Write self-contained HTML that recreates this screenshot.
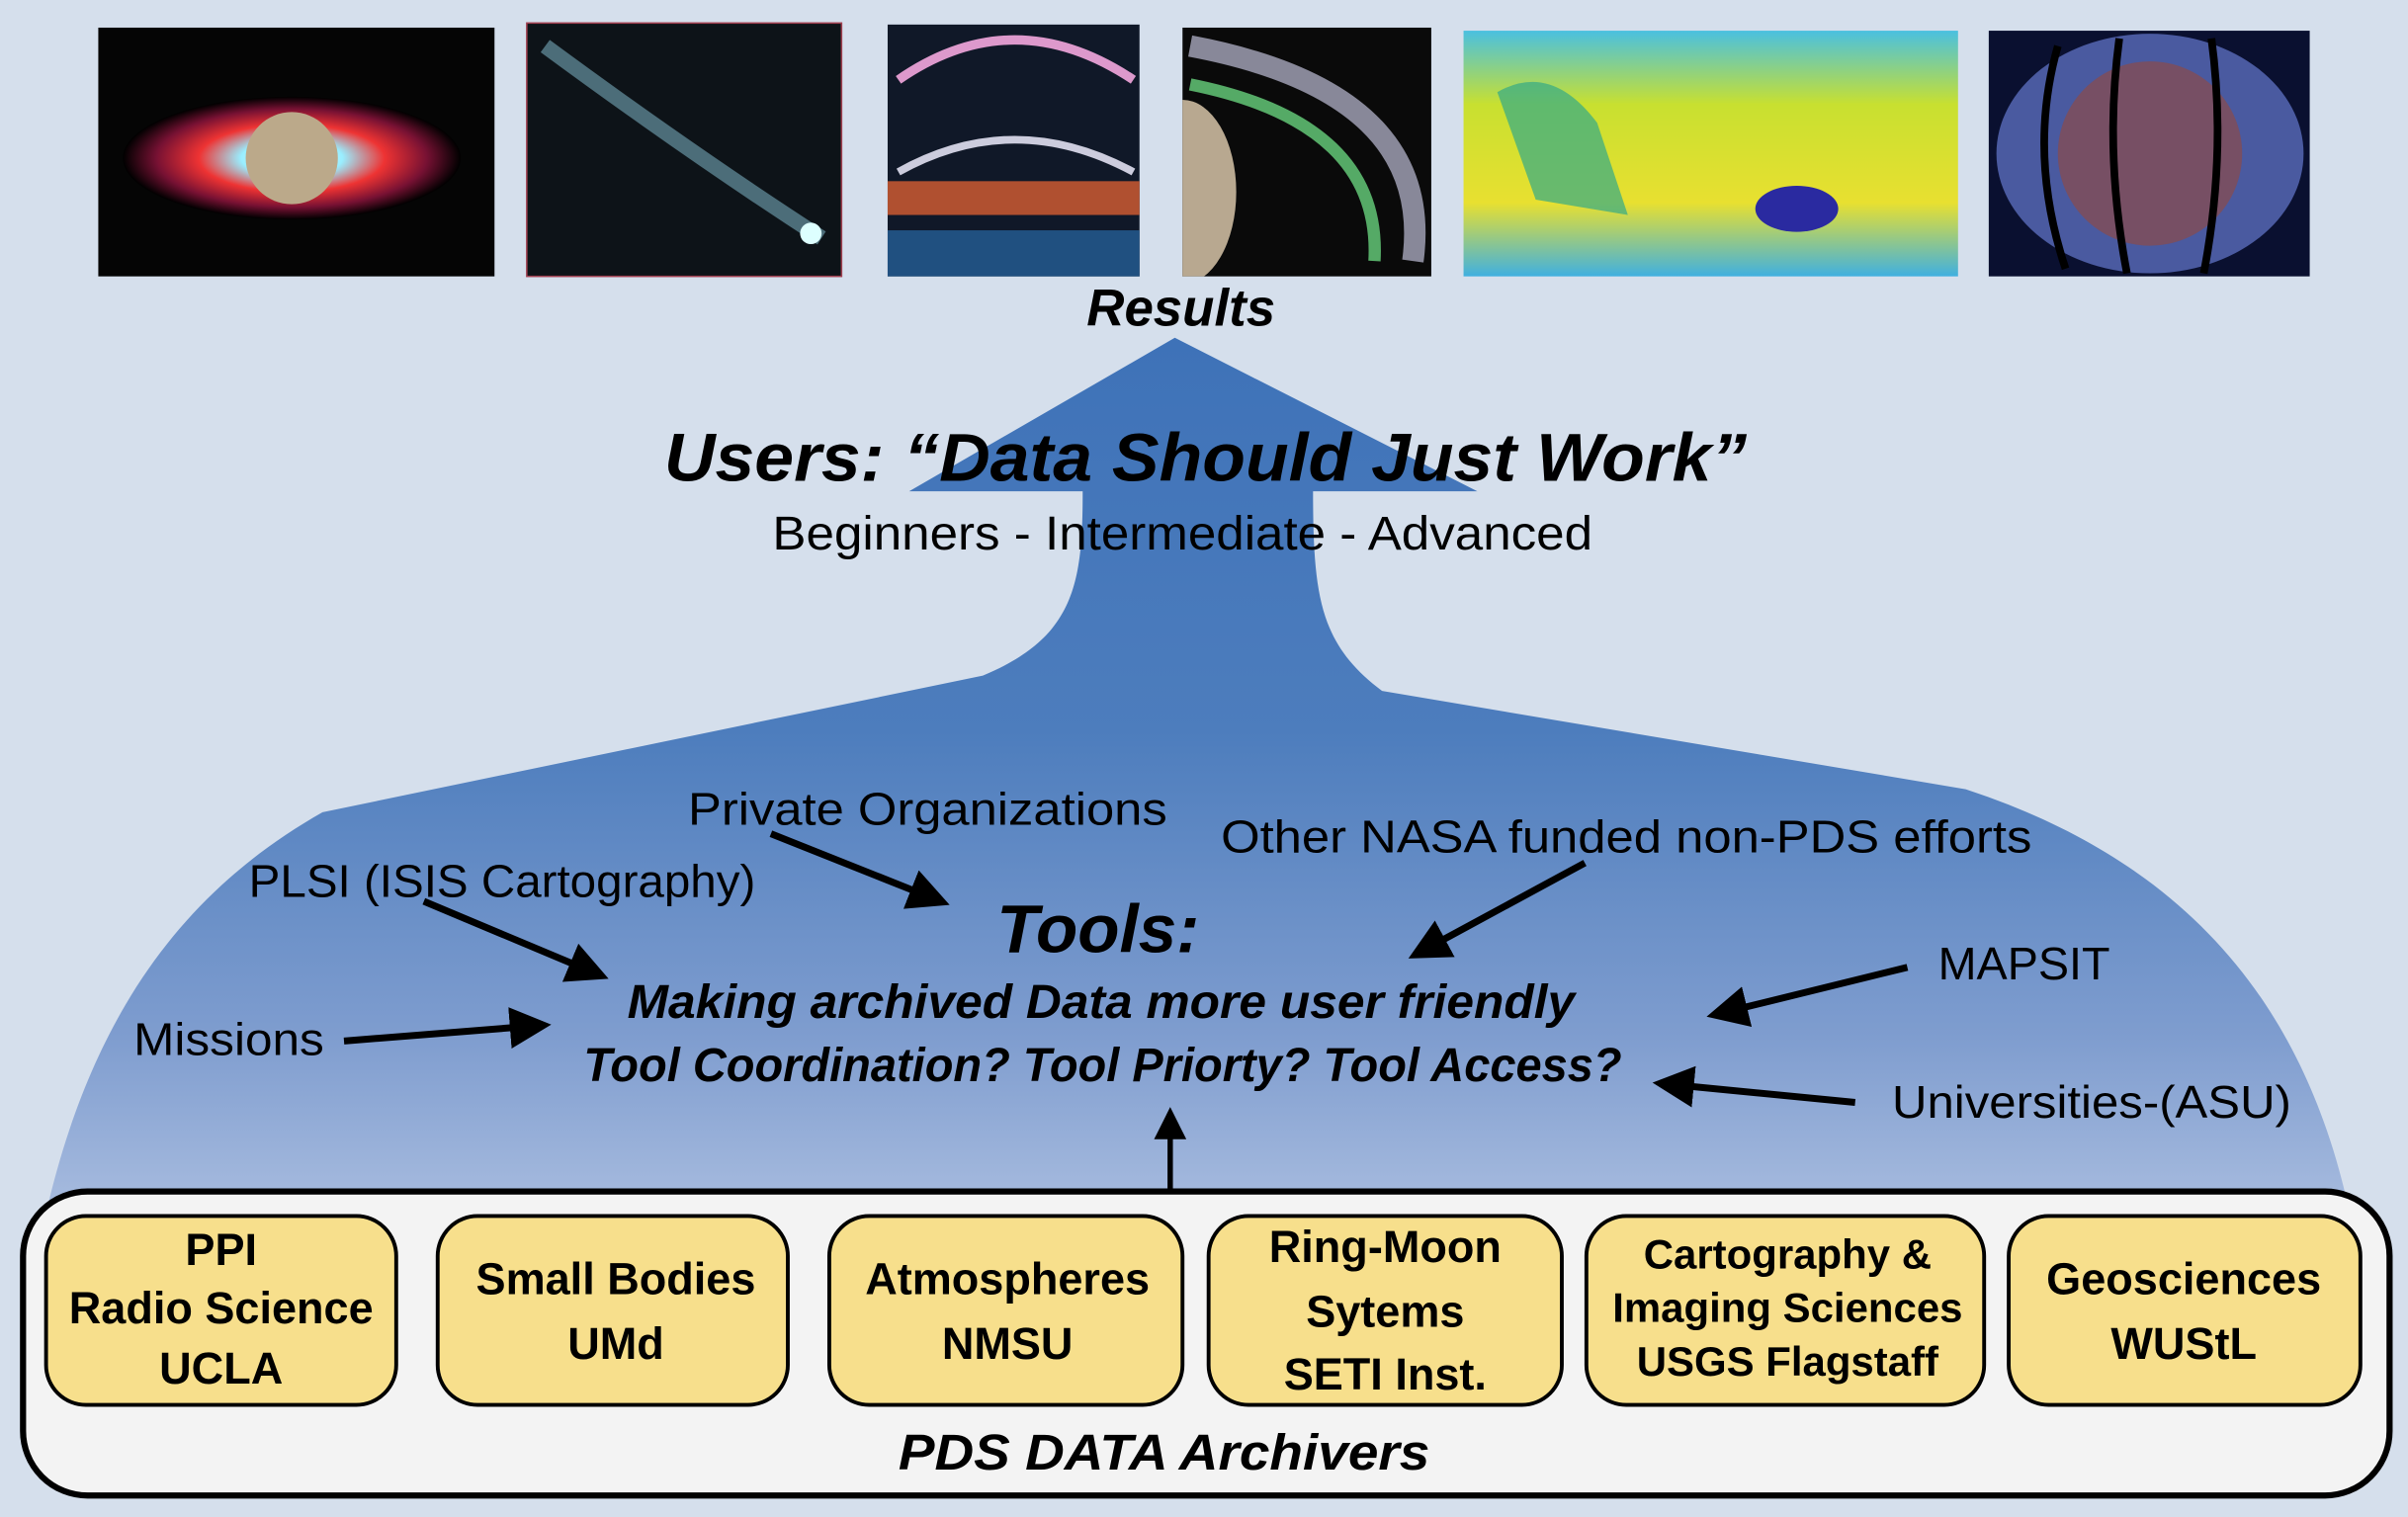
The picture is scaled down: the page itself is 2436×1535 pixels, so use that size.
<!DOCTYPE html>
<html><head><meta charset="utf-8"><style>html,body{margin:0;padding:0;background:#d5dfec;}svg{display:block}</style></head>
<body>
<svg width="2436" height="1535" viewBox="0 0 1568 988" preserveAspectRatio="none" xmlns="http://www.w3.org/2000/svg" font-family="'Liberation Sans', sans-serif">
<defs>
<linearGradient id="bl" x1="0" y1="220" x2="0" y2="790" gradientUnits="userSpaceOnUse">
<stop offset="0" stop-color="#3e72b8"/><stop offset="0.45" stop-color="#4d7dbd"/><stop offset="0.8" stop-color="#7f9dcf"/><stop offset="1" stop-color="#a8bcdf"/></linearGradient>
<radialGradient id="jup" cx="0.5" cy="0.5" r="0.5"><stop offset="0" stop-color="#fff"/><stop offset="0.3" stop-color="#9ef"/><stop offset="0.55" stop-color="#e33"/><stop offset="0.8" stop-color="#713"/><stop offset="1" stop-color="#000"/></radialGradient>
<linearGradient id="mars" x1="0" y1="0" x2="0" y2="1"><stop offset="0" stop-color="#4ac0e0"/><stop offset="0.3" stop-color="#c8e030"/><stop offset="0.7" stop-color="#e8e030"/><stop offset="1" stop-color="#40b0e0"/></linearGradient>
<clipPath id="sat"><rect x="770" y="18" width="162" height="162"/></clipPath>
<marker id="ah" markerWidth="6" markerHeight="6" refX="4" refY="3" orient="auto" markerUnits="strokeWidth"><path d="M0 0 L6 3 L0 6 Z" fill="#000"/></marker>
</defs>
<rect width="1568" height="988" fill="#d5dfec"/>
<rect x="64" y="18" width="258" height="162" fill="#050505"/>
<ellipse cx="190" cy="103" rx="110" ry="40" fill="url(#jup)"/>
<circle cx="190" cy="103" r="30" fill="#bba98a"/>
<rect x="343" y="15" width="205" height="165" fill="#0d1318" stroke="#a04050"/>
<path d="M355 30 Q450 100 535 155" stroke="#7ab" stroke-width="10" opacity="0.6" fill="none"/>
<circle cx="528" cy="152" r="7" fill="#dff"/>
<rect x="578" y="16" width="164" height="164" fill="#101828"/>
<path d="M585 52 Q660 0 738 52" stroke="#d9c" stroke-width="6" fill="none"/>
<path d="M585 112 Q660 70 738 112" stroke="#ccd" stroke-width="5" fill="none"/>
<rect x="578" y="118" width="164" height="22" fill="#b05030"/>
<rect x="578" y="150" width="164" height="30" fill="#205080"/>
<rect x="770" y="18" width="162" height="162" fill="#0a0a0a"/>
<g clip-path="url(#sat)">
<path d="M775 30 Q935 60 920 170" stroke="#889" stroke-width="14" fill="none"/>
<path d="M775 55 Q900 80 895 170" stroke="#5a6" stroke-width="8" fill="none"/>
<ellipse cx="770" cy="125" rx="35" ry="60" fill="#b8a890"/>
</g>
<rect x="953" y="20" width="322" height="160" fill="url(#mars)"/>
<path d="M975 60 Q1010 40 1040 80 L1060 140 L1000 130 Z" fill="#3a8" opacity="0.7"/>
<ellipse cx="1170" cy="136" rx="27" ry="15" fill="#2a2aa0"/>
<rect x="1295" y="20" width="209" height="160" fill="#0a1030"/>
<ellipse cx="1400" cy="100" rx="100" ry="78" fill="#4a5aa0"/>
<ellipse cx="1400" cy="100" rx="60" ry="60" fill="#8a4a4a" opacity="0.7"/>
<g stroke="#000" stroke-width="5" fill="none"><path d="M1340 30 Q1320 100 1345 175"/><path d="M1380 25 Q1370 100 1385 178"/><path d="M1440 25 Q1450 100 1435 178"/></g>
<text x="769" y="212" text-anchor="middle" font-size="34" font-weight="bold" font-style="italic">Results</text>
<path d="M765 220 L962 320 L855 320 C855 390 860 420 900 450 L1280 514 C1420 560 1500 650 1530 790 L30 790 C60 660 120 580 210 529 L640 440 C700 415 705 380 705 320 L592 320 Z" fill="url(#bl)"/>
<text x="785" y="313" text-anchor="middle" font-size="44" font-weight="bold" font-style="italic" textLength="705" lengthAdjust="spacingAndGlyphs">Users: “Data Should Just Work”</text>
<text x="770" y="358" text-anchor="middle" font-size="31" textLength="534" lengthAdjust="spacingAndGlyphs">Beginners - Intermediate - Advanced</text>
<g font-size="30">
<text x="448" y="537" textLength="312" lengthAdjust="spacingAndGlyphs">Private Organizations</text>
<text x="795" y="555" textLength="528" lengthAdjust="spacingAndGlyphs">Other NASA funded non-PDS efforts</text>
<text x="162" y="584" textLength="330" lengthAdjust="spacingAndGlyphs">PLSI (ISIS Cartography)</text>
<text x="1262" y="638" textLength="112" lengthAdjust="spacingAndGlyphs">MAPSIT</text>
<text x="87" y="687" textLength="124" lengthAdjust="spacingAndGlyphs">Missions</text>
<text x="1232" y="728" textLength="260" lengthAdjust="spacingAndGlyphs">Universities-(ASU)</text>
</g>
<text x="715" y="620" text-anchor="middle" font-size="44" font-weight="bold" font-style="italic" textLength="132" lengthAdjust="spacingAndGlyphs">Tools:</text>
<text x="717" y="663" text-anchor="middle" font-size="31" font-weight="bold" font-style="italic" textLength="617" lengthAdjust="spacingAndGlyphs">Making archived Data more user friendly</text>
<text x="718" y="704" text-anchor="middle" font-size="31" font-weight="bold" font-style="italic" textLength="676" lengthAdjust="spacingAndGlyphs">Tool Coordination? Tool Priorty? Tool Access?</text>
<g stroke="#000" stroke-width="4.5" marker-end="url(#ah)">
<line x1="502" y1="543" x2="610" y2="586"/>
<line x1="1032" y1="562" x2="925" y2="620"/>
<line x1="276" y1="587" x2="388" y2="634"/>
<line x1="1242" y1="630" x2="1120" y2="660"/>
<line x1="224" y1="678" x2="350" y2="668"/>
<line x1="1208" y1="718" x2="1085" y2="706"/>
<line x1="762" y1="776" x2="762" y2="728" stroke-width="3.5"/>
</g>
<rect x="15" y="776" width="1541" height="198" rx="42" fill="#f3f3f3" stroke="#000" stroke-width="4"/>
<g fill="#f7df8c" stroke="#000" stroke-width="2.5">
<rect x="30" y="792" width="228" height="123" rx="26"/>
<rect x="285" y="792" width="228" height="123" rx="26"/>
<rect x="540" y="792" width="230" height="123" rx="26"/>
<rect x="787" y="792" width="230" height="123" rx="26"/>
<rect x="1033" y="792" width="259" height="123" rx="26"/>
<rect x="1308" y="792" width="229" height="123" rx="26"/>
</g>
<g font-size="29" font-weight="bold" text-anchor="middle">
<text x="144" y="824">PPI</text><text x="144" y="862">Radio Science</text><text x="144" y="901">UCLA</text>
<text x="401" y="843">Small Bodies</text><text x="401" y="885">UMd</text>
<text x="656" y="843">Atmospheres</text><text x="656" y="885">NMSU</text>
<text x="902" y="822">Ring-Moon</text><text x="902" y="864">Sytems</text><text x="902" y="905">SETI Inst.</text>
<text x="1164" y="826" font-size="27">Cartography &amp;</text><text x="1164" y="861" font-size="27">Imaging Sciences</text><text x="1164" y="896" font-size="27">USGS Flagstaff</text>
<text x="1422" y="843">Geosciences</text><text x="1422" y="885">WUStL</text>
</g>
<text x="758" y="957" text-anchor="middle" font-size="33" font-weight="bold" font-style="italic" textLength="346" lengthAdjust="spacingAndGlyphs">PDS DATA Archivers</text>
</svg>
</body></html>
